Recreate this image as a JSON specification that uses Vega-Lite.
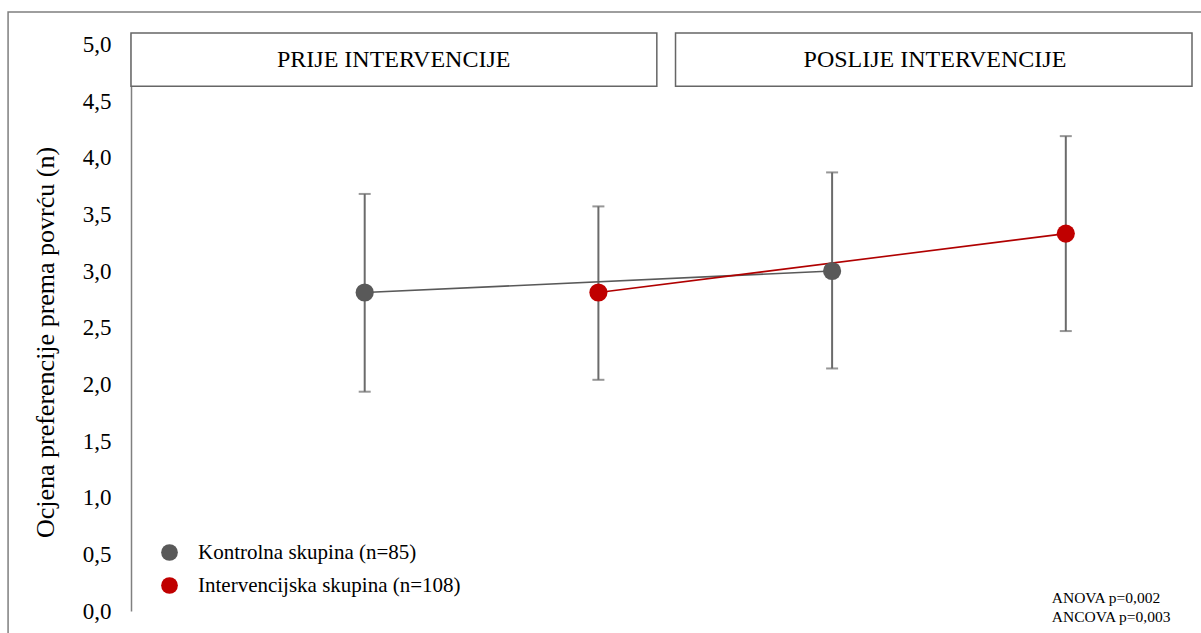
{
  "$schema": "https://vega.github.io/schema/vega-lite/v6.json",
  "autosize": {"type": "none"},
  "width": 1061,
  "height": 578,
  "padding": {"left": 131, "top": 33, "right": 9, "bottom": 22},
  "background": "white",
  "config": {"view": {"stroke": null}, "font": "Liberation Serif, Times New Roman, serif"},
  "datasets": {
    "points": [
      {"group": "Kontrolna skupina (n=85)", "phase": "prije", "pos": 1, "mean": 2.81, "lo": 1.935, "hi": 3.68},
      {"group": "Intervencijska skupina (n=108)", "phase": "prije", "pos": 2, "mean": 2.81, "lo": 2.04, "hi": 3.57},
      {"group": "Kontrolna skupina (n=85)", "phase": "poslije", "pos": 3, "mean": 3.0, "lo": 2.14, "hi": 3.87},
      {"group": "Intervencijska skupina (n=108)", "phase": "poslije", "pos": 4, "mean": 3.33, "lo": 2.47, "hi": 4.19}
    ],
    "headers": [
      {"label": "PRIJE INTERVENCIJE", "start": 0.0, "end": 2.25, "mid": 1.124},
      {"label": "POSLIJE INTERVENCIJE", "start": 2.33, "end": 4.54, "mid": 3.44}
    ]
  },
  "layer": [
    {
      "data": {"values": [{}]},
      "mark": {"type": "rect", "fill": null, "stroke": "#7f7f7f", "strokeWidth": 1.5, "clip": false},
      "encoding": {
        "x": {"datum": -0.526, "type": "quantitative", "scale": {"domain": [0, 4.54], "zero": false, "nice": false}, "axis": null},
        "x2": {"datum": 4.62},
        "y": {"datum": 5.285, "type": "quantitative", "scale": {"domain": [0, 5.1], "zero": false, "nice": false}},
        "y2": {"datum": -0.3}
      }
    },
    {
      "data": {"name": "headers"},
      "mark": {"type": "rect", "fill": "white", "stroke": "#666666", "strokeWidth": 1.5, "clip": false},
      "encoding": {
        "x": {"field": "start", "type": "quantitative"},
        "x2": {"field": "end"},
        "y": {"datum": 5.1, "type": "quantitative"},
        "y2": {"datum": 4.63}
      }
    },
    {
      "data": {"name": "headers"},
      "mark": {"type": "text", "font": "Liberation Serif, Times New Roman, serif", "fontSize": 24, "color": "#000000", "align": "center", "baseline": "middle"},
      "encoding": {
        "x": {"field": "mid", "type": "quantitative"},
        "y": {"datum": 4.865, "type": "quantitative"},
        "text": {"field": "label"}
      }
    },
    {
      "data": {"name": "points"},
      "mark": {"type": "rule", "color": "#6b6b6b", "strokeWidth": 2},
      "encoding": {
        "x": {"field": "pos", "type": "quantitative"},
        "y": {"field": "lo", "type": "quantitative", "axis": {
          "values": [0, 0.5, 1, 1.5, 2, 2.5, 3, 3.5, 4, 4.5, 5],
          "labelExpr": "replace(format(datum.value, '.1f'), '.', ',')",
          "grid": false,
          "ticks": false,
          "tickSize": 0,
          "domain": true,
          "domainColor": "#808080",
          "domainWidth": 1.5,
          "labelFont": "Liberation Serif, Times New Roman, serif",
          "labelFontSize": 23,
          "labelColor": "#000000",
          "labelPadding": 20,
          "title": "Ocjena preferencije prema povrću (n)",
          "titleFont": "Liberation Serif, Times New Roman, serif",
          "titleFontSize": 26,
          "titleFontWeight": "normal",
          "titleColor": "#000000",
          "titleAngle": -90,
          "titleX": -86,
          "titleY": 309,
          "titleAlign": "center",
          "titleBaseline": "middle"
        }},
        "y2": {"field": "hi"}
      }
    },
    {
      "data": {"name": "points"},
      "mark": {"type": "tick", "orient": "horizontal", "color": "#6b6b6b", "size": 12, "thickness": 2},
      "encoding": {
        "x": {"field": "pos", "type": "quantitative"},
        "y": {"field": "hi", "type": "quantitative"}
      }
    },
    {
      "data": {"name": "points"},
      "mark": {"type": "tick", "orient": "horizontal", "color": "#6b6b6b", "size": 12, "thickness": 2},
      "encoding": {
        "x": {"field": "pos", "type": "quantitative"},
        "y": {"field": "lo", "type": "quantitative"}
      }
    },
    {
      "data": {"name": "points"},
      "transform": [{"filter": "datum.group == 'Kontrolna skupina (n=85)'"}],
      "mark": {"type": "line", "strokeWidth": 1.6, "color": "#595959"},
      "encoding": {
        "x": {"field": "pos", "type": "quantitative"},
        "y": {"field": "mean", "type": "quantitative"},
        "order": {"field": "pos"}
      }
    },
    {
      "data": {"name": "points"},
      "transform": [{"filter": "datum.group == 'Intervencijska skupina (n=108)'"}],
      "mark": {"type": "line", "strokeWidth": 1.6, "color": "#b00000"},
      "encoding": {
        "x": {"field": "pos", "type": "quantitative"},
        "y": {"field": "mean", "type": "quantitative"},
        "order": {"field": "pos"}
      }
    },
    {
      "data": {"name": "points"},
      "mark": {"type": "point", "filled": true, "opacity": 1, "size": 330, "shape": "circle", "strokeWidth": 0},
      "encoding": {
        "x": {"field": "pos", "type": "quantitative"},
        "y": {"field": "mean", "type": "quantitative"},
        "color": {
          "field": "group", "type": "nominal",
          "scale": {"domain": ["Kontrolna skupina (n=85)", "Intervencijska skupina (n=108)"], "range": ["#595959", "#C00000"]},
          "legend": {
            "title": null,
            "orient": "none",
            "legendX": 28,
            "legendY": 509,
            "padding": 0,
            "symbolType": "circle",
            "symbolSize": 280,
            "symbolStrokeWidth": 0,
            "labelOffset": 18,
            "rowPadding": 11,
            "labelFont": "Liberation Serif, Times New Roman, serif",
            "labelFontSize": 21,
            "labelColor": "#000000",
            "labelLimit": 0
          }
        }
      }
    },
    {
      "data": {"values": [{}]},
      "mark": {"type": "text", "font": "Liberation Serif, Times New Roman, serif", "fontSize": 15.5, "color": "#000000", "align": "left", "baseline": "alphabetic", "lineHeight": 19, "clip": false},
      "encoding": {
        "x": {"datum": 3.94, "type": "quantitative"},
        "y": {"datum": 0.075, "type": "quantitative"},
        "text": {"value": ["ANOVA p=0,002", "ANCOVA p=0,003"]}
      }
    }
  ]
}
